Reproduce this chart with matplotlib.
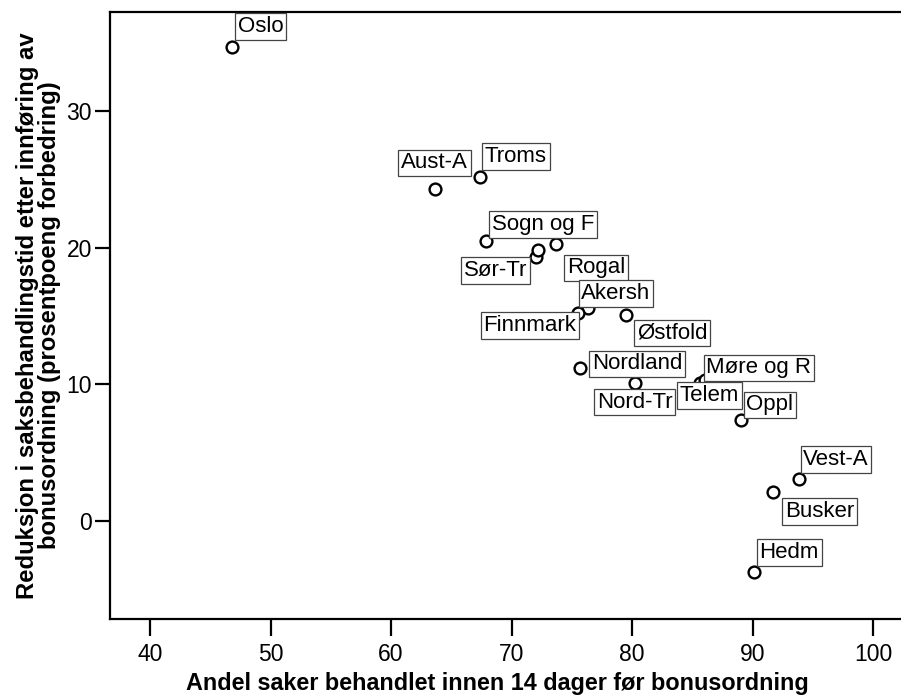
import matplotlib
matplotlib.use("Agg")
import matplotlib.pyplot as plt

plt.rcParams['font.family'] = ['Liberation Sans', 'DejaVu Sans']

# share of cases handled within 14 days before the bonus scheme (%)
andel = [46.8, 63.6, 67.4, 67.9, 72.0, 72.2, 73.7, 76.3, 75.5, 79.5,
         75.7, 80.2, 85.6, 86.0, 89.0, 93.8, 91.7, 90.1]
# reduction in processing time (percentage points)
reduksjon = [34.7, 24.3, 25.2, 20.5, 19.3, 19.8, 20.3, 15.6, 15.2, 15.1,
             11.2, 10.1, 10.1, 10.3, 7.4, 3.1, 2.1, -3.7]
fylke = ["Oslo", "Aust-A", "Troms", "Sogn og F", "Sør-Tr", "", "Rogal",
         "Akersh", "Finnmark", "Østfold", "Nordland", "Nord-Tr", "Møre og R",
         "Telem", "Oppl", "Vest-A", "Busker", "Hedm"]

# label box placement: (dx px, dy px, ha, va) of the box corner
plassering = [(3, 7, 'left', 'bottom'), (0, 13, 'center', 'bottom'),
              (2, 7, 'left', 'bottom'), (3, 3, 'left', 'bottom'),
              (-6, 0, 'right', 'top'), None, (8, -11, 'left', 'top'),
              (-9, 1, 'left', 'bottom'), (1, 1, 'right', 'top'),
              (8, -5, 'left', 'top'), (9, 4, 'left', 'center'),
              (0, -6, 'center', 'top'), (4, 2, 'left', 'bottom'),
              (5, -2, 'center', 'top'), (3, 2, 'left', 'bottom'),
              (2, 6, 'left', 'bottom'), (9, -6, 'left', 'top'),
              (3, 6, 'left', 'bottom')]

fig = plt.figure(figsize=(9.01, 6.97), dpi=100)
ax = fig.add_axes([0.1221, 0.1119, 0.8779, 0.8709])

ax.plot(andel, reduksjon, 'o', mfc='white', mec='black', ms=8.5, mew=1.7,
        zorder=3)

fs = 16
pad = 0.12
pad_px = pad * fs * 100 / 72
for x, y, navn, p in zip(andel, reduksjon, fylke, plassering):
    if not navn:
        continue
    dx, dy, ha, va = p
    if ha == 'left':
        dx += pad_px
    elif ha == 'right':
        dx -= pad_px
    if va == 'bottom':
        dy += pad_px
    elif va == 'top':
        dy -= pad_px
    ax.annotate(navn, (x, y), xytext=(dx, dy), textcoords='offset pixels',
                ha=ha, va=va, fontsize=fs, zorder=4,
                bbox=dict(boxstyle='square,pad=%s' % pad, fc='white',
                          ec='#444444', lw=0.9))

ax.set_xlim(36.68, 102.3)
ax.set_ylim(-7.17, 37.24)
ax.set_xticks([40, 50, 60, 70, 80, 90, 100])
ax.set_yticks([0, 10, 20, 30])
ax.spines['right'].set_visible(False)
for s in ['left', 'bottom', 'top']:
    ax.spines[s].set_linewidth(1.6)
ax.tick_params(direction='out', width=1.6, labelsize=16.5)
ax.tick_params(axis='x', length=12, pad=5)
ax.tick_params(axis='y', length=11, pad=2)

ax.set_xlabel("Andel saker behandlet innen 14 dager før bonusordning",
              fontsize=16.8, fontweight='bold', labelpad=3)
ax.xaxis.set_label_coords(0.49, -0.088)
ax.set_ylabel("Reduksjon i saksbehandlingstid etter innføring av\n"
              "bonusordning (prosentpoeng forbedring)",
              fontsize=17.2, fontweight='bold', labelpad=4, linespacing=0.95)

fig.savefig("out.png", dpi=100)
